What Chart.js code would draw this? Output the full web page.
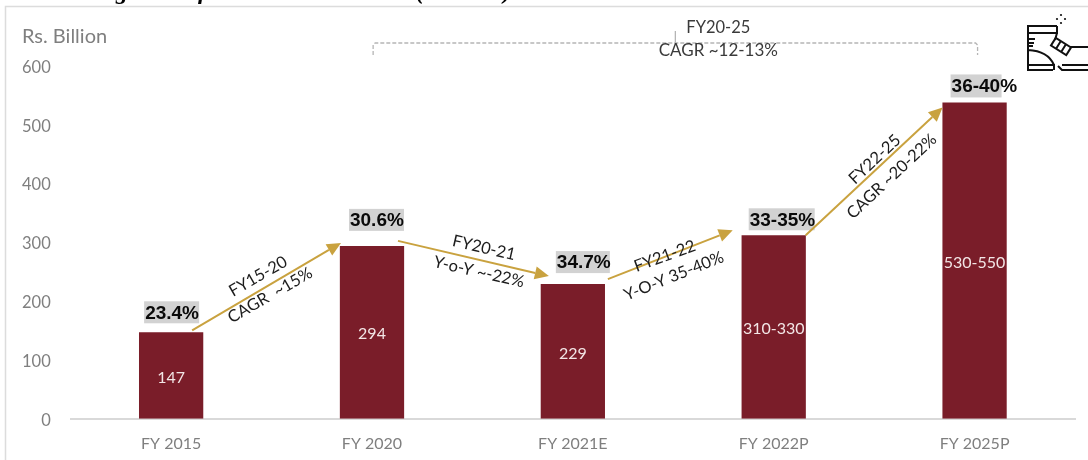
<!DOCTYPE html>
<html>
<head>
<meta charset="utf-8">
<style>
html,body{margin:0;padding:0;background:#fff}
#wrap{width:1088px;height:460px;position:relative;overflow:hidden}
canvas{display:block;filter:blur(0.45px)}
</style>
<script src="https://cdn.jsdelivr.net/npm/chart.js@4/dist/chart.umd.min.js"></script>
</head>
<body>
<div id="wrap"><canvas id="c" width="1088" height="460"></canvas></div>
<script>
const categories = ["FY 2015","FY 2020","FY 2021E","FY 2022P","FY 2025P"];
const marketValues = [147,294,229,312,538];
const valueLabels = ["147","294","229","310-330","530-550"];
const shareLabels = ["23.4%","30.6%","34.7%","33-35%","36-40%"];
const yTicks = [0,100,200,300,400,500,600];
const unitLabel = "Rs. Billion";
const cutOffTitle = "Indian organised footwear market base (in value)";
const overallLabels = ["FY20-25","CAGR ~12-13%"];
const growthTop = ["FY15-20","FY20-21","FY21-22","FY22-25"];
const growthBottom = ["CAGR  ~15%","Y-o-Y ~-22%","Y-O-Y 35-40%","CAGR ~20-22%"];

const SANS = 'Lato, "Open Sans", sans-serif';
const BAR = '#7a1d29', GOLD = '#c9a23f', GREY = '#7f7f7f', DARK = '#3a3a3a';

const overlay = {
  id:'overlay',
  afterDatasetsDraw(chart){
    const {ctx,scales:{x,y}} = chart;
    const bx = i => x.getPixelForValue(i);
    const by = i => y.getPixelForValue(marketValues[i]);
    const at = (i,dx,dy) => [bx(i)+dx, by(i)+dy];
    ctx.save();

    // page frame and cut-off heading
    ctx.strokeStyle='#dcdcdc'; ctx.lineWidth=1.5;
    ctx.beginPath(); ctx.moveTo(5.5,460); ctx.lineTo(5.5,6.5); ctx.lineTo(1088,6.5); ctx.stroke();
    ctx.fillStyle='#000'; ctx.font='bold italic 24px "Liberation Serif"';
    ctx.textAlign='left'; ctx.textBaseline='alphabetic';
    ctx.fillText(cutOffTitle,22,-1);

    // unit
    ctx.fillStyle=GREY; ctx.font='20px '+SANS; ctx.textBaseline='middle';
    ctx.fillText(unitLabel,22,37);

    // values inside bars
    ctx.font='16px '+SANS; ctx.fillStyle='#f3e6e6'; ctx.textAlign='center';
    valueLabels.forEach((t,i)=>{
      ctx.fillText(t,bx(i),(by(i)+y.getPixelForValue(0))/2+2);
    });

    // share labels with grey highlight
    const share = [[-27,-31,55,22],[-23,-37,55,22],[-17,-33,54,22],[-25,-27,66,22],[-24,-28,51,23]];
    shareLabels.forEach((t,i)=>{
      const s = share[i];
      const [lx,ty] = at(i,s[0],s[1]);
      ctx.fillStyle='#d2d2d2'; ctx.fillRect(lx,ty,s[2],s[3]);
      ctx.fillStyle='#0a0a0a'; ctx.font='bold 19px "Liberation Sans"';
      ctx.textAlign='left';
      ctx.fillText(t,lx+1,ty+s[3]/2+1);
    });

    // growth arrows
    const arrows = [
      [at(0,21,-2),at(1,-31,-3)],
      [at(1,26,-5),at(2,-24,-8)],
      [at(2,35,-5),at(3,-41,-5)],
      [at(3,32,0),at(4,-32,5)]
    ];
    arrows.forEach(([a,b])=>{
      const ang=Math.atan2(b[1]-a[1],b[0]-a[0]), L=14, W=6.5;
      const mx=b[0]-L*Math.cos(ang), my=b[1]-L*Math.sin(ang);
      ctx.strokeStyle=GOLD; ctx.lineWidth=2;
      ctx.beginPath(); ctx.moveTo(a[0],a[1]); ctx.lineTo(mx,my); ctx.stroke();
      ctx.fillStyle=GOLD; ctx.beginPath();
      ctx.moveTo(b[0],b[1]);
      ctx.lineTo(mx-W*Math.sin(ang),my+W*Math.cos(ang));
      ctx.lineTo(mx+W*Math.sin(ang),my-W*Math.cos(ang));
      ctx.closePath(); ctx.fill();
    });

    // rotated growth captions
    const rotated = [
      [growthTop[0],0,87,-56,-30],[growthBottom[0],0,99,-37,-30],
      [growthTop[1],1,112,2,13],[growthBottom[1],1,107,26,13],
      [growthTop[2],2,92,-28,-20],[growthBottom[2],2,101,-8,-22],
      [growthTop[3],3,101,-76,-43],[growthBottom[3],3,118,-59,-43]
    ];
    ctx.fillStyle='#1c1c1c'; ctx.font='16.5px '+SANS; ctx.textAlign='center';
    rotated.forEach(([t,i,dx,dy,deg])=>{
      const [px,py]=at(i,dx,dy);
      ctx.save(); ctx.translate(px,py); ctx.rotate(deg*Math.PI/180);
      ctx.fillText(t,0,0); ctx.restore();
    });

    // overall bracket
    const lx=bx(0)+202, rx=bx(4)+3, top=y.getPixelForValue(600)-23, foot=top+12;
    ctx.strokeStyle='#b5b5b5'; ctx.lineWidth=1.3; ctx.setLineDash([4,2]);
    ctx.beginPath(); ctx.moveTo(lx,foot); ctx.lineTo(lx,top+2); ctx.lineTo(lx+2,top);
    ctx.lineTo(rx-2,top); ctx.lineTo(rx,top+2); ctx.lineTo(rx,foot); ctx.stroke();
    ctx.setLineDash([]);
    const mid=(lx+rx)/2;
    ctx.beginPath(); ctx.moveTo(mid,top); ctx.lineTo(mid,top-12); ctx.stroke();
    ctx.fillStyle=DARK; ctx.font='16.5px '+SANS;
    ctx.fillText(overallLabels[0],mid+43,top-15);
    ctx.font='17px '+SANS;
    ctx.fillText(overallLabels[1],mid+43,top+8);

    // boot pictogram, running off the right edge
    ctx.strokeStyle='#111'; ctx.fillStyle='#111'; ctx.lineWidth=2;
    ctx.beginPath();
    ctx.moveTo(1057,26); ctx.lineTo(1028,26); ctx.lineTo(1028,70); ctx.lineTo(1053,70);
    ctx.moveTo(1028,33); ctx.lineTo(1057,33); ctx.lineTo(1057,26);
    ctx.moveTo(1057,33); ctx.lineTo(1055,40);
    ctx.moveTo(1028,50); ctx.quadraticCurveTo(1048,51,1054,65);
    ctx.moveTo(1028,65); ctx.lineTo(1054,65); ctx.lineTo(1054,70);
    ctx.moveTo(1058,66); ctx.lineTo(1062,70); ctx.lineTo(1088,70);
    ctx.moveTo(1062,65); ctx.lineTo(1088,65);
    ctx.moveTo(1028,39); ctx.lineTo(1035,39);
    ctx.moveTo(1028,43); ctx.lineTo(1034,43);
    ctx.moveTo(1028,46); ctx.lineTo(1033,46);
    ctx.moveTo(1070,47); ctx.lineTo(1088,47);
    ctx.stroke();
    ctx.save(); ctx.translate(1061,46.5); ctx.rotate(32*Math.PI/180);
    ctx.strokeRect(-9,-4.5,18,9);
    ctx.beginPath(); ctx.moveTo(-3,-4.5); ctx.lineTo(-3,4.5); ctx.moveTo(3,-4.5); ctx.lineTo(3,4.5); ctx.stroke();
    ctx.restore();
    [[1061,15],[1057,19],[1065,19],[1061,23]].forEach(([a,b])=>{
      ctx.beginPath(); ctx.arc(a,b,1.1,0,7); ctx.fill();
    });
    ctx.restore();
  }
};

new Chart(document.getElementById('c'),{
  type:'bar',
  data:{labels:categories,datasets:[{
    data:marketValues,backgroundColor:BAR,borderWidth:0,
    barPercentage:1,categoryPercentage:0.32
  }]},
  options:{
    responsive:false,animation:false,
    layout:{padding:{top:66,right:13,left:0,bottom:0}},
    plugins:{legend:{display:false},tooltip:{enabled:false},title:{display:false}},
    scales:{
      x:{
        grid:{display:false,drawTicks:false},
        border:{display:true,color:'#d9d9d9',width:2},
        ticks:{color:GREY,font:{family:SANS,size:16},padding:16,maxRotation:0},
        afterFit(s){s.height=41.3;}
      },
      y:{
        min:0,max:600,
        afterBuildTicks(s){s.ticks=yTicks.map(v=>({value:v}));},
        grid:{display:false,drawTicks:false},
        border:{display:false},
        ticks:{color:GREY,font:{family:SANS,size:16.5},padding:20,labelOffset:1.5},
        afterFit(s){s.width=70.7;}
      }
    }
  },
  plugins:[overlay]
});
</script>
</body>
</html>
